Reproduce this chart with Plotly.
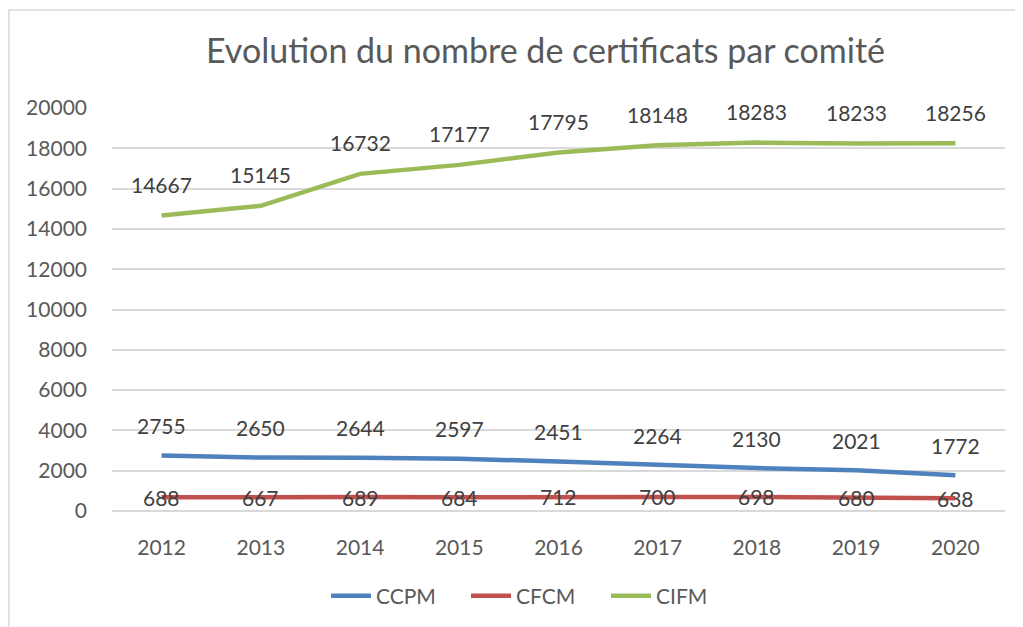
import plotly.graph_objects as go

years = ["2012", "2013", "2014", "2015", "2016", "2017", "2018", "2019", "2020"]
ccpm = [2755, 2650, 2644, 2597, 2451, 2264, 2130, 2021, 1772]
cfcm = [688, 667, 689, 684, 712, 700, 698, 680, 638]
cifm = [14667, 15145, 16732, 17177, 17795, 18148, 18283, 18233, 18256]

series = [
    ("CCPM", ccpm, "#4F81BD", 30),
    ("CFCM", cfcm, "#C0504D", 0),
    ("CIFM", cifm, "#9BBB59", 31),
]

FONT = "Lato"
fig = go.Figure()
annotations = []
for name, vals, color, shift in series:
    fig.add_trace(go.Scatter(
        x=years, y=vals, name=name, mode="lines",
        line=dict(color=color, width=4.5),
    ))
    for i, v in enumerate(vals):
        annotations.append(dict(
            x=i, y=v, xref="x", yref="y", text=str(v), showarrow=False,
            yshift=shift, font=dict(family=FONT, size=21, color="#404040"),
            xanchor="center", yanchor="middle",
        ))

# plot area in page pixels: x 112..1005, y 108..511 (page body offset ~8px)
annotations.append(dict(
    text="Evolution du nombre de certificats par comité",
    xref="paper", yref="paper", x=(545 - 112) / 893, y=(511 - 50) / 403,
    xanchor="center", yanchor="middle", showarrow=False,
    font=dict(family=FONT, size=34, color="#595959"),
))

fig.update_layout(
    width=1023, height=627,
    margin=dict(l=104, r=26, t=100, b=124, autoexpand=False),
    paper_bgcolor="white", plot_bgcolor="white",
    showlegend=True,
    legend=dict(orientation="h", x=(536 - 112) / 893, y=(511 - 596) / 403,
                xanchor="center", yanchor="middle",
                font=dict(family=FONT, size=21, color="#595959"),
                itemwidth=40, entrywidth=85, traceorder="normal"),
    annotations=annotations,
    shapes=[dict(type="rect", xref="paper", yref="paper",
                 x0=(9 - 112) / 893, x1=1.2, y0=-0.5, y1=(511 - 10) / 403,
                 line=dict(color="#d9d9d9", width=1.5), fillcolor="rgba(0,0,0,0)")],
)
fig.update_xaxes(
    type="category", range=[-0.5, 8.5], showgrid=False, zeroline=False, showline=False,
    ticks="", tickfont=dict(family=FONT, size=21, color="#595959"),
    ticklabelstandoff=22, automargin=False,
)
fig.update_yaxes(
    range=[0, 20000], dtick=2000, tick0=0, tickformat="d",
    showgrid=True, gridcolor="#d9d9d9", gridwidth=1.5,
    zeroline=True, zerolinecolor="#d9d9d9", zerolinewidth=1.5,
    showline=False, ticks="",
    tickfont=dict(family=FONT, size=21, color="#595959"),
    ticklabelstandoff=24, automargin=False,
)

fig.write_html("out.html")
